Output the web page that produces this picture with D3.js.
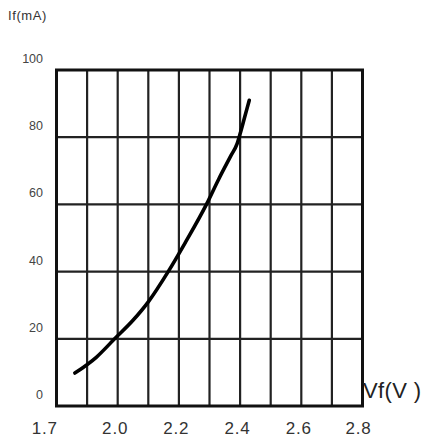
<!DOCTYPE html>
<html lang="en">
    <head>
        <meta charset="UTF-8" />
        <title>If - Vf curve</title>
        <style>
            html, body { margin: 0; padding: 0; background: #fff; }
            svg { display: block; }
            text { font-family: "Liberation Sans", Arial, sans-serif; }
        </style>
    </head>
    <body>
        <script src="https://cdn.jsdelivr.net/npm/d3@7"></script>
        <div id="stage"></div>
        <script>
            // forward voltage (V) vs forward current (mA)
            const vf = [1.86, 1.93, 1.99, 2.05, 2.10, 2.165, 2.22, 2.29, 2.33, 2.37, 2.39, 2.40, 2.415, 2.43];
            const ifmA = [9.8, 14.5, 20, 25.5, 31, 40, 48.5, 60, 67.5, 74.5, 78, 81, 86, 91];

            // grid and tick labels
            const xGrid = [1.8, 1.9, 2.0, 2.1, 2.2, 2.3, 2.4, 2.5, 2.6, 2.7, 2.8];
            const yGrid = [0, 20, 40, 60, 80, 100];
            const xTickValues = [1.76, 1.99, 2.19, 2.39, 2.59, 2.785];
            const xTickLabels = ['1.7', '2.0', '2.2', '2.4', '2.6', '2.8'];
            const yTickLabels = ['0', '20', '40', '60', '80', '100'];

            const width = 424, height = 443;
            const svg = d3.select('#stage').append('svg')
                .attr('width', width)
                .attr('height', height);

            const x = d3.scaleLinear().domain([1.8, 2.8]).range([56.5, 362.5]);
            const y = d3.scaleLinear().domain([0, 100]).range([406, 70]);

            // grid
            svg.append('g')
                .selectAll('line.v')
                .data(xGrid)
                .join('line')
                .attr('x1', d => x(d)).attr('x2', d => x(d))
                .attr('y1', y(0)).attr('y2', y(100))
                .attr('stroke', '#222')
                .attr('stroke-width', 2.2);

            svg.append('g')
                .selectAll('line.h')
                .data(yGrid)
                .join('line')
                .attr('x1', x(1.8)).attr('x2', x(2.8))
                .attr('y1', d => y(d)).attr('y2', d => y(d))
                .attr('stroke', '#222')
                .attr('stroke-width', 2.2);

            // frame
            svg.append('rect')
                .attr('x', x(1.8)).attr('y', y(100))
                .attr('width', x(2.8) - x(1.8))
                .attr('height', y(0) - y(100))
                .attr('fill', 'none')
                .attr('stroke', '#111')
                .attr('stroke-width', 3);

            // curve
            const line = d3.line()
                .x((d, i) => x(vf[i]))
                .y(d => y(d))
                .curve(d3.curveMonotoneX);

            svg.append('path')
                .datum(ifmA)
                .attr('d', line)
                .attr('fill', 'none')
                .attr('stroke', '#000')
                .attr('stroke-width', 3.6)
                .attr('stroke-linecap', 'round');

            // x axis labels
            const xAxis = d3.axisBottom(x)
                .tickValues(xTickValues)
                .tickFormat((d, i) => xTickLabels[i])
                .tickSize(0);
            const gx = svg.append('g')
                .attr('transform', `translate(0, ${y(0)})`)
                .call(xAxis);
            gx.select('.domain').remove();
            gx.selectAll('text')
                .attr('y', 28)
                .attr('dy', 0)
                .attr('fill', '#333')
                .attr('font-size', 17)
                .attr('letter-spacing', 0.8)
                .style('font-family', '"Liberation Sans", Arial, sans-serif');

            // y axis labels
            const yAxis = d3.axisLeft(y)
                .tickValues(yGrid)
                .tickFormat((d, i) => yTickLabels[i])
                .tickSize(0);
            const gy = svg.append('g')
                .attr('transform', 'translate(43, 0)')
                .call(yAxis);
            gy.select('.domain').remove();
            gy.selectAll('text')
                .attr('x', 0)
                .attr('dy', -7.5)
                .attr('fill', '#444')
                .attr('font-size', 12.5)
                .style('font-family', '"Liberation Sans", Arial, sans-serif');

            // axis titles
            svg.append('text')
                .attr('x', 8).attr('y', 20)
                .attr('font-size', 13)
                .attr('fill', '#333')
                .attr('letter-spacing', 0.6)
                .text('If(mA)');

            svg.append('text')
                .attr('x', 363).attr('y', 398)
                .attr('font-size', 22)
                .attr('fill', '#222')
                .attr('textLength', 58)
                .text('Vf(V )');
        </script>
    </body>
</html>
